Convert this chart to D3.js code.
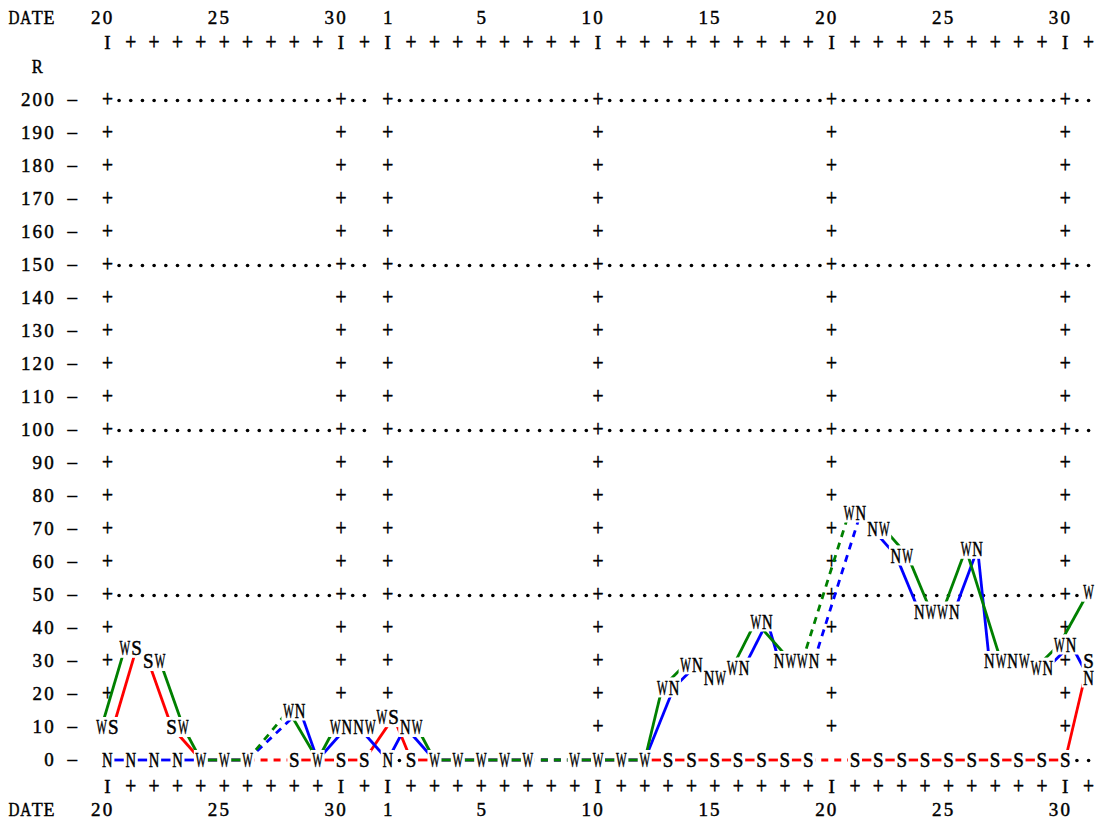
<!DOCTYPE html>
<html>
<head>
<meta charset="utf-8">
<script src="https://cdn.jsdelivr.net/npm/d3@7"></script>
<style>
  html, body { margin: 0; padding: 0; background: #fff; }
  svg { display: block; }
  text { font-family: "Liberation Serif", "DejaVu Serif", serif; font-size: 19px; fill: #000; stroke: #000; stroke-width: 0.45px; }
  .sym { font-size: 21.5px; stroke-width: 0.5px; }
  .plus { font-size: 24px; stroke-width: 0.6px; }
</style>
</head>
<body>
<svg id="chart" width="1099" height="823"></svg>
<script>
// Dates along the printout: Oct 20 .. Oct 31, Nov 1 .. Nov 30, Dec 1
const days = ["20","21","22","23","24","25","26","27","28","29","30","31",
              "1","2","3","4","5","6","7","8","9","10","11","12","13","14","15",
              "16","17","18","19","20","21","22","23","24","25","26","27","28","29","30",
              "1"];
const labeledDays = [0, 5, 10, 12, 16, 21, 26, 31, 36, 41];   // date numbers printed on the axis
const majorDays = [0, 10, 12, 21, 31, 41];                     // "I" ticks and grid columns

const yTicks = [0, 10, 20, 30, 40, 50, 60, 70, 80, 90, 100, 110, 120, 130, 140, 150, 160, 170, 180, 190, 200];
const dottedRows = [0, 50, 100, 150, 200];

// R values per day (null = no observation)
const westValues = [10, 34, 30, 10, 0, 0, 0, null, 15, 0, 10, 10, 13, 10, 0, 0, 0, 0, 0, null, 0, 0, 0, 0,
                    22, 29, 25, 28, 42, 30, 30, null, 75, 70, 62, 45, 45, 64, 30, 30, 28, 35, 51];
const northValues = [0, 0, 0, 0, 0, 0, 0, null, 15, 0, 10, 10, 0, 10, 0, 0, 0, 0, 0, null, 0, 0, 0, 0,
                     22, 29, 25, 28, 42, 30, 30, null, 75, 70, 62, 45, 45, 64, 30, 30, 28, 35, 25];
const southValues = [10, 34, 30, 10, 0, 0, 0, null, 0, 0, 0, 0, 13, 0, 0, 0, 0, 0, 0, null, 0, 0, 0, 0,
                     0, 0, 0, 0, 0, 0, 0, null, 0, 0, 0, 0, 0, 0, 0, 0, 0, 0, 30];

// symbols as printed on each day (overlapping points share one label)
const printed = [
  [0, "N"], [0, "WS"], [1, "N"], [1, "WS"], [2, "N"], [2, "SW"], [3, "N"], [3, "SW"],
  [4, "W"], [5, "W"], [6, "W"], [8, "S"], [8, "WN"], [9, "W"], [10, "S"], [10, "WN"],
  [11, "S"], [11, "NW"], [12, "N"], [12, "WS"], [13, "S"], [13, "NW"],
  [14, "W"], [15, "W"], [16, "W"], [17, "W"], [18, "W"], [20, "W"], [21, "W"], [22, "W"], [23, "W"],
  [24, "S"], [24, "WN"], [25, "S"], [25, "WN"], [26, "S"], [26, "NW"], [27, "S"], [27, "WN"],
  [28, "S"], [28, "WN"], [29, "S"], [29, "NW"], [30, "S"], [30, "WN"],
  [32, "S"], [32, "WN"], [33, "S"], [33, "NW"], [34, "S"], [34, "NW"], [35, "S"], [35, "NW"],
  [36, "S"], [36, "WN"], [37, "S"], [37, "WN"], [38, "S"], [38, "NW"], [39, "S"], [39, "NW"],
  [40, "S"], [40, "WN"], [41, "S"], [41, "WN"], [42, "W"], [42, "S"], [42, "N"]
];

const series = [
  { key: "S", values: southValues, color: "#ff0000" },
  { key: "N", values: northValues, color: "#0000ff" },
  { key: "W", values: westValues, color: "#008000" }
];
const seriesByKey = Object.fromEntries(series.map(s => [s.key, s]));

const svg = d3.select("#chart");

const x = d3.scaleLinear().domain([0, days.length - 1]).range([107.4, 1088.6]);
const y = d3.scaleLinear().domain([0, 200]).range([760, 100]);
const cellW = (x(1) - x(0)) / 2;               // one printer character
const cellX = k => x(0) + (k - 8) * cellW;     // day 0 sits in character cell 8

const rows = { topDate: 17.5, topTick: 43, unit: 67, bottomTick: 787, bottomDate: 810 };

const gridLayer = svg.append("g").attr("opacity", 0.999);
const lineLayer = svg.append("g");
const labelLayer = svg.append("g").attr("opacity", 0.999);

// one printed character, squeezed to fit the cell when too wide
function putChar(g, ch, cx, cy, maxW = 11.0, cls = null) {
    if (ch === " ") return;
    let base = 6.4;
    if (ch === "+") { base = 6.0; cls = "plus"; }
    if (ch === "–") base = 4.8;
    if (cls === "sym") base = 7.2;
    const t = g.append("text")
        .attr("class", cls)
        .attr("x", cx)
        .attr("y", cy + base)
        .attr("text-anchor", "middle")
        .text(ch);
    const w = t.node().getComputedTextLength();
    if (w > maxW) t.attr("textLength", maxW).attr("lengthAdjust", "spacingAndGlyphs");
}

// right-aligned string ending at xRight
function putRight(g, str, xRight, cy) {
    const chars = str.split("");
    chars.forEach((ch, k) => putChar(g, ch, xRight - (chars.length - 1 - k) * cellW, cy));
}

// Position of each printed symbol
const labelValue = (i, t) => seriesByKey[t[0]].values[i];
function letterPos(i, t, k) {
    return { x: x(i) + (k - (t.length - 1) / 2) * cellW, y: y(labelValue(i, t)) };
}
const letters = [];
printed.forEach(([i, t]) => {
    t.split("").forEach((ch, k) => letters.push({ ch, ...letterPos(i, t, k) }));
});
// a printed symbol replaces the grid character beneath it
const underSymbol = (px, py) => letters.some(d => Math.abs(d.x - px) < 9 && Math.abs(d.y - py) < 11);

// Header / footer rows
[rows.topDate, rows.bottomDate].forEach(r => {
    "DATE".split("").forEach((ch, k) => putChar(gridLayer, ch, cellX(k), r));
    labeledDays.forEach(i => putRight(gridLayer, days[i], x(i), r));
});
[rows.topTick, rows.bottomTick].forEach(r => {
    days.forEach((d, i) => putChar(gridLayer, majorDays.includes(i) ? "I" : "+", x(i), r));
});
putChar(gridLayer, "R", cellX(2), rows.unit);

// Y axis labels
yTicks.forEach(v => {
    putRight(gridLayer, String(v), cellX(3), y(v));
    putChar(gridLayer, "–", cellX(5), y(v));
});

// Grid marks: "+" at the major columns, dotted reference rows
const gapBefore = days.indexOf("1");   // the printout leaves a blank just before the month change
const halfSteps = d3.range(0, (days.length - 1) * 2 + 1).map(k => k / 2);

// does any series run along the zero row over position p?
function zeroRowCovered(p) {
    return series.some(s => {
        const pts = s.values.map((v, i) => ({ v, i })).filter(d => d.v != null);
        for (let k = 0; k < pts.length - 1; k++) {
            const a = pts[k], b = pts[k + 1];
            if (a.v === 0 && b.v === 0 && p >= a.i && p <= b.i) return true;
        }
        return false;
    });
}

function dot(p, v) {
    if (underSymbol(x(p), y(v))) return;
    gridLayer.append("circle").attr("cx", x(p)).attr("cy", y(v) + 0.5).attr("r", 1.8).attr("fill", "#000");
}

yTicks.forEach(v => {
    if (v === 0) {
        halfSteps.forEach(p => {
            if (p === gapBefore - 0.5 || zeroRowCovered(p)) return;
            dot(p, v);
        });
        return;
    }
    majorDays.forEach(i => {
        if (!underSymbol(x(i), y(v))) putChar(gridLayer, "+", x(i), y(v));
    });
    if (dottedRows.includes(v)) {
        halfSteps.forEach(p => {
            if (majorDays.includes(p) || p === gapBefore - 0.5) return;
            dot(p, v);
        });
    }
});

// where a series point sits: on its printed letter if there is one, else on the date column
function pointPos(key, i, v) {
    for (const [d, t] of printed) {
        const k = t.indexOf(key);
        if (d === i && k >= 0 && Math.abs(labelValue(d, t) - v) < 2) return letterPos(d, t, k);
    }
    return { x: x(i), y: y(v) };
}

// Lines: solid between consecutive days, dashed across a missing day
series.forEach(s => {
    const pts = s.values
        .map((v, i) => v == null ? null : { i, ...pointPos(s.key, i, v) })
        .filter(d => d);
    const segs = d3.pairs(pts);
    lineLayer.selectAll(null)
        .data(segs)
        .enter()
        .append("line")
        .attr("x1", d => d[0].x)
        .attr("y1", d => d[0].y)
        .attr("x2", d => d[1].x)
        .attr("y2", d => d[1].y)
        .attr("stroke", s.color)
        .attr("stroke-width", 2.8)
        .attr("stroke-dasharray", d => d[1].i - d[0].i > 1 ? "7,6" : null);
});

// Printed symbols knock out whatever lies under them
labelLayer.selectAll("rect")
    .data(letters)
    .enter()
    .append("rect")
    .attr("x", d => d.x - 7)
    .attr("y", d => d.y - 10)
    .attr("width", 14)
    .attr("height", 20)
    .attr("fill", "#fff");
letters.forEach(d => putChar(labelLayer, d.ch, d.x, d.y, 10.6, "sym"));
</script>
</body>
</html>
